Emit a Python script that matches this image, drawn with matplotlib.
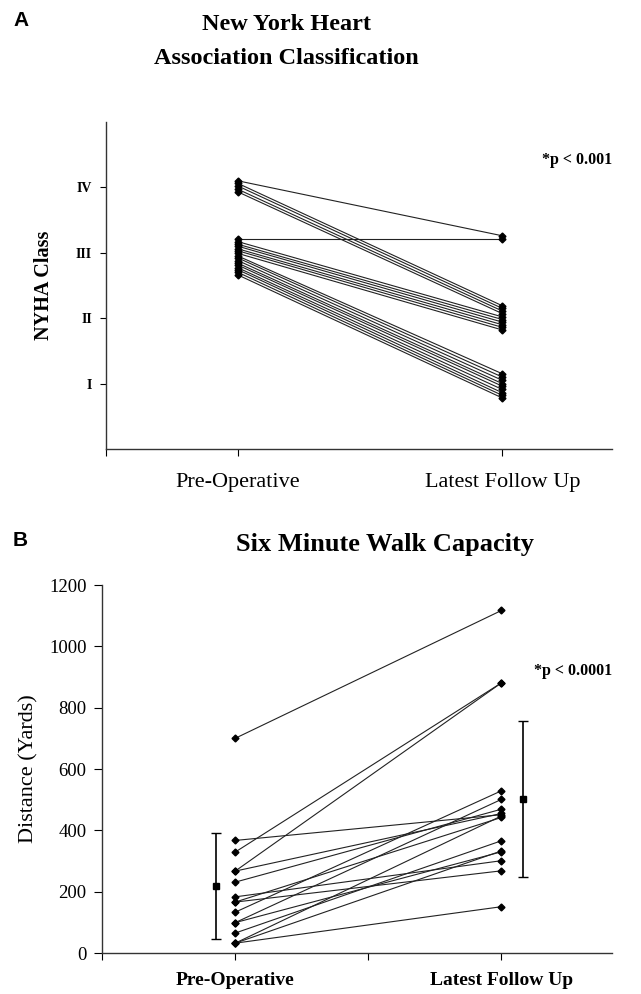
import matplotlib
matplotlib.use("Agg")
import matplotlib.pyplot as plt

# NYHA class per patient (plotted with small offsets as in the original)
nyha_pre = [4.10, 4.06, 4.02, 3.97, 3.93, 3.21, 3.17, 3.13, 3.10, 3.06, 3.03,
            2.99, 2.95, 2.92, 2.88, 2.84, 2.81, 2.77, 2.74, 2.70, 2.66]
nyha_post = [3.26, 2.19, 2.15, 2.11, 2.07, 3.21, 2.02, 1.98, 1.94, 1.90, 1.86,
             1.82, 1.15, 1.10, 1.05, 1.00, 0.96, 0.91, 0.86, 0.82, 0.78]
nyha_ticks = [1, 2, 3, 4]
nyha_labels = ["I", "II", "III", "IV"]

# six minute walk distance (yards)
walk_pre = [700, 367, 329, 267, 267, 231, 183, 166, 166, 133, 99, 99, 65, 32, 32, 32]
walk_post = [1117, 451, 881, 881, 455, 469, 301, 442, 268, 529, 501, 330, 366, 447, 333, 151]
walk_mean = [219, 501]
walk_low = [45, 247]
walk_high = [390, 755]

serif = "Liberation Serif"
W, H = 641, 994

fig = plt.figure(figsize=(W / 100, H / 100), dpi=100)


def style_axes(ax):
    for s in ["top", "right"]:
        ax.spines[s].set_visible(False)
    for s in ["left", "bottom"]:
        ax.spines[s].set_linewidth(1.0)
        ax.spines[s].set_color("#333333")


# ---------------- Panel A ----------------
axA = fig.add_axes([106 / W, 1 - 449 / H, 506 / W, 327 / H])
style_axes(axA)
for p, q in zip(nyha_pre, nyha_post):
    axA.plot([1, 3], [p, q], "-", color="#222222", lw=0.8,
             marker="D", markersize=3.5, markerfacecolor="black", markeredgecolor="black")
axA.set_xlim(0, 3.83)
axA.set_ylim(0, 5)
axA.set_yticks(nyha_ticks)
axA.set_yticklabels(nyha_labels, fontfamily=serif, fontweight="bold", fontsize=10)
axA.set_xticks([0, 1, 3])
axA.set_xticklabels(["", "Pre-Operative", "Latest Follow Up"], fontfamily=serif, fontsize=16)
axA.tick_params(axis="x", length=5, pad=12, direction="out")
axA.tick_params(axis="y", length=4, pad=6, direction="out")
axA.set_ylabel("NYHA Class", fontfamily=serif, fontweight="bold", fontsize=14.5, labelpad=16)
axA.text(612 / W, 1 - 160 / H, "*p < 0.001", transform=fig.transFigure, ha="right", va="center",
         fontfamily=serif, fontweight="bold", fontsize=11.5)

fig.text(13 / W, 1 - 21 / H, "A", fontfamily="Liberation Sans", fontweight="bold",
         fontsize=15, ha="left", va="center")
fig.text(286 / W, 1 - 30 / H, "New York Heart", ha="center", va="baseline",
         fontfamily=serif, fontweight="bold", fontsize=17.5)
fig.text(286 / W, 1 - 64 / H, "Association Classification", ha="center", va="baseline",
         fontfamily=serif, fontweight="bold", fontsize=17.5)

# ---------------- Panel B ----------------
axB = fig.add_axes([102 / W, 1 - 953 / H, 510 / W, 368 / H])
style_axes(axB)
for p, q in zip(walk_pre, walk_post):
    axB.plot([1, 3], [p, q], "-", color="#222222", lw=0.8,
             marker="D", markersize=3.5, markerfacecolor="black", markeredgecolor="black")
for x, m, lo, hi in zip([0.857, 3.165], walk_mean, walk_low, walk_high):
    axB.errorbar([x], [m], yerr=[[m - lo], [hi - m]], fmt="s", color="black",
                 markersize=5, elinewidth=1.2, capsize=3.5, capthick=1.0)
axB.set_xlim(0, 3.83)
axB.set_ylim(0, 1200)
axB.set_yticks(range(0, 1201, 200))
axB.set_yticklabels([str(v) for v in range(0, 1201, 200)], fontfamily=serif, fontsize=13.5)
axB.set_xticks([0, 1, 2, 3])
axB.set_xticklabels(["", "Pre-Operative", "", "Latest Follow Up"], fontfamily=serif,
                    fontweight="bold", fontsize=14)
axB.tick_params(axis="x", length=5, pad=9, direction="out")
axB.tick_params(axis="y", length=6, pad=5, direction="out")
axB.set_ylabel("Distance (Yards)", fontfamily=serif, fontsize=16, labelpad=8)
axB.text(612 / W, 1 - 671 / H, "*p < 0.0001", transform=fig.transFigure, ha="right", va="center",
         fontfamily=serif, fontweight="bold", fontsize=11.5)

fig.text(13 / W, 1 - 541 / H, "B", fontfamily="Liberation Sans", fontweight="bold",
         fontsize=15, ha="left", va="center")
fig.text(385 / W, 1 - 544 / H, "Six Minute Walk Capacity", ha="center", va="center",
         fontfamily=serif, fontweight="bold", fontsize=19)

fig.savefig("out.png", dpi=100)
